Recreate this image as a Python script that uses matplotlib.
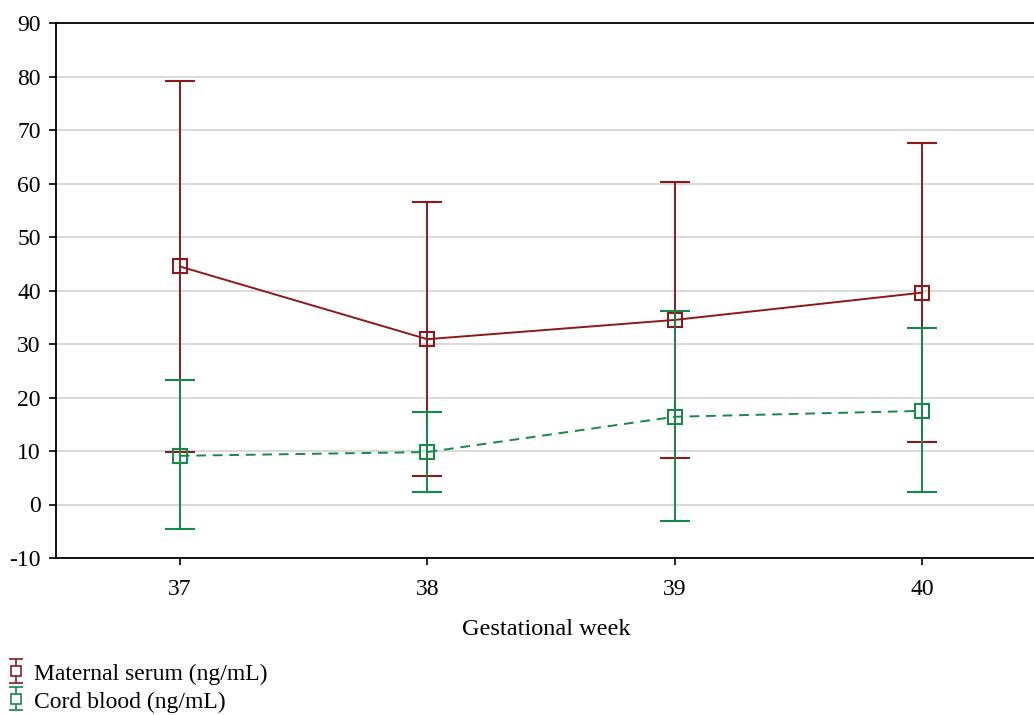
import matplotlib.pyplot as plt
import numpy as np

plt.rcParams['font.family'] = ['Liberation Serif', 'DejaVu Serif']
plt.rcParams['axes.unicode_minus'] = False

weeks = [37, 38, 39, 40]

maternal_mean = [44.5, 30.9, 34.5, 39.6]
maternal_upper = [79.2, 56.6, 60.2, 67.6]
maternal_lower = [9.9, 5.3, 8.7, 11.7]

cord_mean = [9.1, 9.8, 16.4, 17.5]
cord_upper = [23.2, 17.3, 36.2, 33.0]
cord_lower = [-4.6, 2.4, -3.1, 2.3]

red = '#8b1a1f'
green = '#16884a'

fig = plt.figure(figsize=(10.34, 7.15), dpi=100)
ax = fig.add_axes([56 / 1034, 157 / 715, 1 - 56 / 1034 + 0.002, 535 / 715])


def yerr(mean, lo, hi):
    m = np.array(mean)
    return [m - np.array(lo), np.array(hi) - m]


ax.errorbar(weeks, maternal_mean, yerr=yerr(maternal_mean, maternal_lower, maternal_upper),
            color=red, lw=1.4, elinewidth=1.4, capsize=11, capthick=1.4,
            marker='s', ms=10, mfc='none', mec=red, mew=1.5, zorder=3)
ax.errorbar(weeks, cord_mean, yerr=yerr(cord_mean, cord_lower, cord_upper),
            color=green, lw=1.4, elinewidth=1.4, capsize=11, capthick=1.4, ls='--',
            dashes=(5, 3.5), marker='s', ms=10, mfc='none', mec=green, mew=1.5, zorder=4)

# small proxies for the legend
p1 = ax.errorbar([np.nan], [np.nan], yerr=[[1], [1]], color=red, ls='none', elinewidth=1.2,
                 capsize=5, capthick=1.2, marker='s', ms=6.5, mfc='white', mec=red, mew=1.2)
p2 = ax.errorbar([np.nan], [np.nan], yerr=[[1], [1]], color=green, ls='none', elinewidth=1.2,
                 capsize=5, capthick=1.2, marker='s', ms=6.5, mfc='white', mec=green, mew=1.2)

ax.set_xlim(36.5, 40.46)
ax.set_ylim(-10, 90)
ax.set_xticks(weeks)
ax.set_yticks(np.arange(-10, 91, 10))
ax.yaxis.grid(True, color='#d9d9d9', lw=1.4)
ax.set_axisbelow(True)
for s in ['left', 'bottom', 'top']:
    ax.spines[s].set_linewidth(1.3)
ax.spines['right'].set_visible(False)
ax.tick_params(axis='both', labelsize=17, direction='out', length=5, width=1.2)
ax.tick_params(axis='x', pad=10)
ax.tick_params(axis='y', pad=6)
ax.set_xlabel('Gestational week', fontsize=17.5, labelpad=14)

fig.legend([p1, p2], ['Maternal serum (ng/mL)', 'Cord blood (ng/mL)'],
           loc='lower left', bbox_to_anchor=(0.003, 0.0), frameon=False,
           fontsize=17, handlelength=0.9, handletextpad=0.3, labelspacing=0.2,
           borderaxespad=0.0, borderpad=0.1, handleheight=0.9)

fig.savefig('out.png', dpi=100)
